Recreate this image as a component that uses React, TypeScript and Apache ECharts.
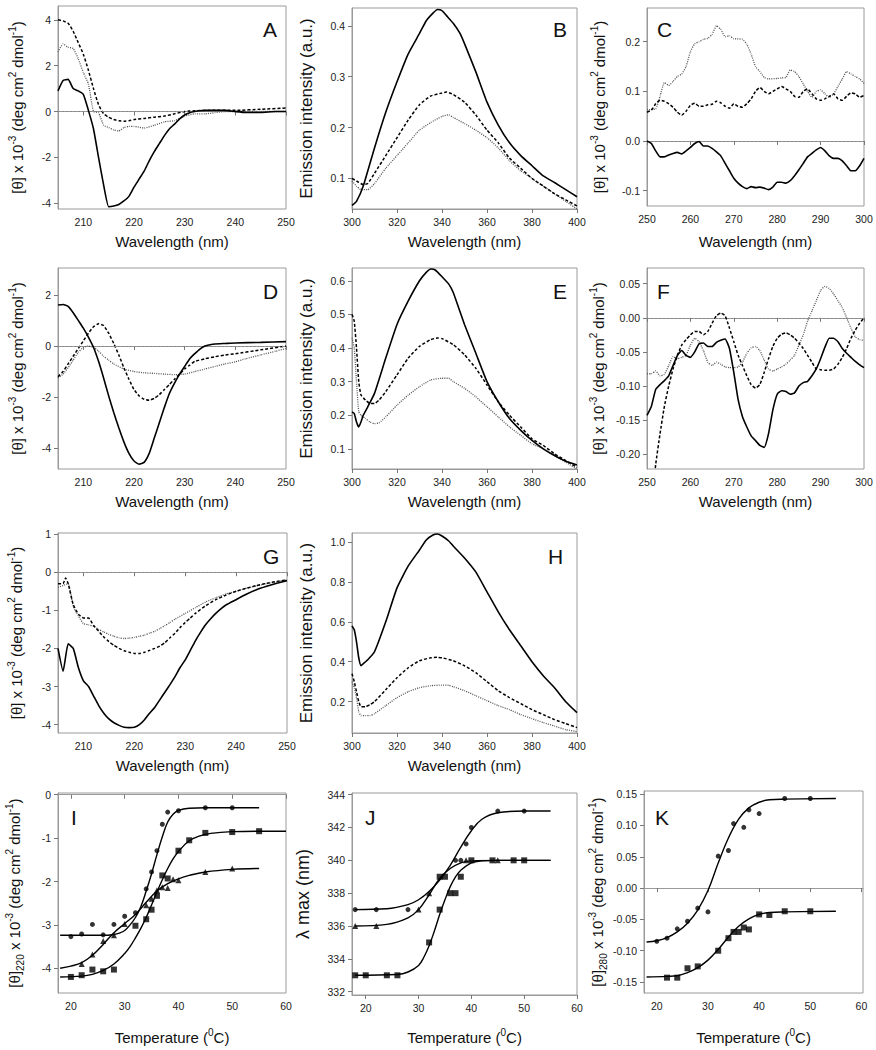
import React, { useEffect, useRef } from "react";
import * as echarts from "echarts";

type P = [number, number][];

// ---------- Panel A (CD far-UV) ----------
const aSolid: P = [[205,0.9],[206,1.35],[207,1.4],[208,1.0],[209,0.9],[210,0.75],[211,0.05],[212,-0.75],[213,-2.0],[214,-3.2],[215,-4.15],[216,-4.12],[217,-4.05],[218,-3.9],[219,-3.7],[220,-3.3],[221,-2.95],[222,-2.6],[223,-2.15],[224,-1.75],[225,-1.4],[226,-1.05],[227,-0.75],[228,-0.55],[229,-0.32],[230,-0.15],[231,-0.05],[232,0],[233,0.03],[234,0.05],[236,0.05],[238,0.05],[240,0],[242,-0.04],[245,-0.04],[248,0],[250,0]];
const aDashed: P = [[205,4.0],[206,3.95],[207,3.85],[208,3.5],[209,3.0],[210,2.5],[211,1.8],[212,1.0],[213,0.3],[214,-0.1],[215,-0.25],[216,-0.35],[217,-0.4],[218,-0.42],[219,-0.4],[220,-0.35],[222,-0.3],[224,-0.25],[226,-0.2],[228,-0.1],[230,0],[232,0.03],[235,0.05],[240,0.05],[245,0.1],[250,0.15]];
const aDotted: P = [[205,2.6],[206,2.95],[207,2.8],[208,2.75],[209,2.3],[210,1.7],[211,1.2],[212,0.0],[213,-0.05],[214,-0.6],[215,-0.7],[216,-0.8],[217,-0.85],[218,-0.7],[219,-0.65],[220,-0.65],[222,-0.72],[224,-0.6],[226,-0.45],[228,-0.4],[230,-0.2],[232,-0.1],[234,-0.1],[236,-0.05],[238,0],[240,0],[242,0],[245,0],[250,0]];

// ---------- Panel B (fluorescence) ----------
const bSolid: P = [[300,0.047],[302,0.055],[305,0.085],[310,0.16],[315,0.23],[320,0.29],[325,0.345],[330,0.385],[333,0.41],[336,0.425],[338,0.432],[340,0.43],[342,0.42],[345,0.405],[348,0.385],[350,0.365],[355,0.31],[360,0.25],[365,0.205],[370,0.17],[375,0.145],[380,0.125],[385,0.105],[390,0.092],[395,0.078],[400,0.064]];
const bDashed: P = [[300,0.1],[302,0.095],[305,0.088],[307,0.09],[310,0.11],[315,0.145],[320,0.18],[325,0.215],[330,0.245],[335,0.262],[340,0.268],[342,0.27],[345,0.265],[350,0.25],[355,0.225],[360,0.195],[365,0.17],[370,0.14],[375,0.12],[380,0.1],[385,0.085],[390,0.07],[395,0.058],[400,0.046]];
const bDotted: P = [[300,0.095],[302,0.085],[304,0.078],[307,0.078],[310,0.09],[315,0.12],[320,0.145],[325,0.17],[330,0.195],[335,0.21],[340,0.222],[343,0.225],[345,0.22],[350,0.208],[355,0.195],[360,0.18],[365,0.16],[370,0.135],[375,0.115],[380,0.1],[385,0.085],[390,0.07],[395,0.055],[400,0.04]];

// ---------- Panel C (CD near-UV) ----------
const cDotted: P = [[250,0.063],[252,0.065],[253,0.09],[254,0.118],[255,0.112],[256,0.12],[257,0.13],[258,0.135],[259,0.15],[260,0.18],[261,0.196],[262,0.2],[263,0.205],[264,0.207],[265,0.215],[266,0.232],[267,0.225],[268,0.21],[269,0.212],[270,0.206],[272,0.205],[273,0.195],[274,0.175],[275,0.15],[276,0.14],[277,0.128],[278,0.125],[280,0.126],[281,0.127],[282,0.128],[283,0.143],[284,0.14],[285,0.13],[286,0.115],[287,0.1],[288,0.088],[289,0.1],[290,0.103],[291,0.095],[292,0.088],[293,0.095],[294,0.11],[295,0.125],[296,0.14],[297,0.135],[298,0.13],[299,0.125],[300,0.116]];
const cDashed: P = [[250,0.058],[251,0.062],[252,0.075],[253,0.082],[254,0.08],[255,0.075],[256,0.068],[257,0.058],[258,0.052],[259,0.06],[260,0.072],[261,0.076],[262,0.07],[263,0.07],[264,0.073],[265,0.074],[266,0.08],[267,0.077],[268,0.07],[269,0.066],[270,0.075],[271,0.07],[272,0.068],[273,0.075],[274,0.085],[275,0.1],[276,0.108],[277,0.1],[278,0.095],[279,0.1],[280,0.105],[281,0.11],[282,0.105],[283,0.1],[284,0.09],[285,0.088],[286,0.1],[287,0.105],[288,0.095],[289,0.085],[290,0.082],[291,0.085],[292,0.09],[293,0.095],[294,0.085],[295,0.082],[296,0.09],[297,0.097],[298,0.095],[299,0.088],[300,0.092]];
const cSolid: P = [[250,0],[251,-0.005],[252,-0.02],[253,-0.032],[254,-0.032],[255,-0.028],[256,-0.025],[257,-0.023],[258,-0.026],[259,-0.02],[260,-0.013],[261,-0.005],[262,-0.001],[263,-0.01],[264,-0.01],[265,-0.015],[266,-0.022],[267,-0.03],[268,-0.045],[269,-0.06],[270,-0.075],[271,-0.085],[272,-0.092],[273,-0.096],[274,-0.092],[275,-0.094],[276,-0.093],[277,-0.095],[278,-0.098],[279,-0.093],[280,-0.083],[281,-0.083],[282,-0.085],[283,-0.08],[284,-0.07],[285,-0.058],[286,-0.045],[287,-0.032],[288,-0.025],[289,-0.018],[290,-0.013],[291,-0.02],[292,-0.03],[293,-0.035],[294,-0.035],[295,-0.04],[296,-0.05],[297,-0.06],[298,-0.06],[299,-0.05],[300,-0.035]];

// ---------- Panel D ----------
const dSolid: P = [[205,1.6],[206,1.62],[207,1.55],[208,1.3],[209,1.0],[210,0.7],[211,0.35],[212,-0.05],[213,-0.6],[214,-1.25],[215,-1.95],[216,-2.6],[217,-3.2],[218,-3.75],[219,-4.2],[220,-4.5],[221,-4.62],[222,-4.55],[223,-4.2],[224,-3.6],[225,-3.0],[226,-2.4],[227,-1.85],[228,-1.45],[229,-1.1],[230,-0.8],[231,-0.5],[232,-0.3],[233,-0.12],[234,0],[235,0.05],[236,0.08],[238,0.1],[240,0.12],[245,0.14],[250,0.17]];
const dDashed: P = [[205,-1.2],[206,-1.0],[207,-0.7],[208,-0.4],[209,-0.1],[210,0.2],[211,0.5],[212,0.75],[213,0.87],[214,0.8],[215,0.5],[216,0.1],[217,-0.35],[218,-0.85],[219,-1.3],[220,-1.7],[221,-1.95],[222,-2.08],[223,-2.12],[224,-2.05],[225,-1.9],[226,-1.7],[227,-1.5],[228,-1.3],[229,-1.1],[230,-0.9],[231,-0.75],[232,-0.6],[234,-0.5],[236,-0.42],[238,-0.35],[240,-0.3],[245,-0.15],[250,0]];
const dDotted: P = [[205,-1.25],[206,-1.1],[207,-0.85],[208,-0.55],[209,-0.25],[210,-0.05],[211,0.0],[212,-0.05],[213,-0.2],[214,-0.4],[215,-0.55],[216,-0.7],[218,-0.9],[220,-1.0],[222,-1.05],[224,-1.07],[226,-1.1],[228,-1.12],[230,-1.1],[232,-1.0],[234,-0.9],[236,-0.8],[238,-0.7],[240,-0.62],[242,-0.5],[245,-0.35],[248,-0.2],[250,-0.1]];

// ---------- Panel E ----------
const eSolid: P = [[300,0.21],[301,0.205],[302,0.18],[303,0.165],[304,0.18],[305,0.2],[307,0.225],[310,0.265],[315,0.37],[320,0.47],[325,0.54],[330,0.6],[333,0.625],[335,0.635],[337,0.632],[340,0.612],[343,0.59],[345,0.565],[350,0.47],[355,0.385],[360,0.3],[365,0.24],[370,0.19],[375,0.155],[380,0.125],[385,0.1],[390,0.08],[395,0.063],[400,0.052]];
const eDashed: P = [[300,0.5],[301,0.48],[302,0.4],[303,0.3],[304,0.26],[306,0.245],[308,0.235],[310,0.235],[312,0.245],[315,0.27],[320,0.32],[325,0.37],[330,0.405],[335,0.425],[338,0.43],[340,0.428],[345,0.41],[350,0.38],[355,0.34],[360,0.29],[365,0.24],[370,0.2],[375,0.165],[380,0.13],[385,0.11],[390,0.085],[395,0.065],[400,0.045]];
const eDotted: P = [[300,0.43],[301,0.4],[302,0.3],[303,0.21],[304,0.2],[306,0.19],[308,0.18],[310,0.175],[312,0.177],[315,0.195],[320,0.23],[325,0.26],[330,0.285],[335,0.305],[340,0.31],[343,0.31],[345,0.3],[350,0.28],[355,0.255],[360,0.225],[365,0.195],[370,0.165],[375,0.14],[380,0.115],[385,0.1],[390,0.08],[395,0.06],[400,0.04]];

// ---------- Panel F ----------
const fSolid: P = [[250,-0.143],[251,-0.13],[252,-0.105],[253,-0.098],[254,-0.092],[255,-0.085],[256,-0.07],[257,-0.055],[258,-0.048],[259,-0.055],[260,-0.058],[261,-0.05],[262,-0.038],[263,-0.037],[264,-0.042],[265,-0.042],[266,-0.036],[267,-0.033],[268,-0.031],[269,-0.045],[270,-0.08],[271,-0.12],[272,-0.145],[273,-0.16],[274,-0.173],[275,-0.18],[276,-0.187],[277,-0.19],[278,-0.17],[279,-0.135],[280,-0.112],[281,-0.107],[282,-0.108],[283,-0.112],[284,-0.11],[285,-0.1],[286,-0.095],[287,-0.093],[288,-0.085],[289,-0.075],[290,-0.06],[291,-0.043],[292,-0.03],[293,-0.03],[294,-0.035],[295,-0.045],[296,-0.052],[297,-0.058],[298,-0.064],[299,-0.069],[300,-0.073]];
const fDashed: P = [[251.7,-0.235],[252,-0.215],[253,-0.17],[254,-0.13],[255,-0.1],[256,-0.075],[257,-0.055],[258,-0.04],[259,-0.032],[260,-0.025],[261,-0.02],[262,-0.02],[263,-0.025],[264,-0.02],[265,-0.008],[266,0.003],[267,0.007],[268,0.003],[269,-0.015],[270,-0.035],[271,-0.055],[272,-0.07],[273,-0.085],[274,-0.098],[275,-0.103],[276,-0.098],[277,-0.08],[278,-0.06],[279,-0.042],[280,-0.03],[281,-0.024],[282,-0.022],[283,-0.025],[284,-0.03],[285,-0.037],[286,-0.045],[287,-0.055],[288,-0.065],[289,-0.075],[290,-0.076],[291,-0.077],[292,-0.077],[293,-0.075],[294,-0.068],[295,-0.058],[296,-0.045],[297,-0.03],[298,-0.018],[299,-0.008],[300,0.0]];
const fDotted: P = [[250,-0.082],[251,-0.082],[252,-0.078],[253,-0.085],[254,-0.083],[255,-0.07],[256,-0.057],[257,-0.06],[258,-0.058],[259,-0.055],[260,-0.04],[261,-0.03],[262,-0.035],[263,-0.048],[264,-0.065],[265,-0.07],[266,-0.065],[267,-0.068],[268,-0.072],[269,-0.073],[270,-0.073],[271,-0.072],[272,-0.065],[273,-0.052],[274,-0.044],[275,-0.042],[276,-0.048],[277,-0.062],[278,-0.075],[279,-0.078],[280,-0.075],[281,-0.072],[282,-0.068],[283,-0.062],[284,-0.055],[285,-0.04],[286,-0.025],[287,-0.005],[288,0.01],[289,0.025],[290,0.04],[291,0.046],[292,0.043],[293,0.035],[294,0.025],[295,0.015],[296,0.0],[297,-0.015],[298,-0.028],[299,-0.032],[300,-0.033]];

// ---------- Panel G ----------
const gSolid: P = [[205,-2.0],[206,-2.6],[207,-1.88],[208,-2.0],[209,-2.5],[210,-2.85],[211,-3.0],[212,-3.25],[213,-3.5],[214,-3.7],[215,-3.85],[216,-3.95],[217,-4.02],[218,-4.07],[219,-4.08],[220,-4.07],[221,-4.0],[222,-3.87],[223,-3.7],[224,-3.55],[225,-3.35],[226,-3.15],[227,-2.95],[228,-2.74],[229,-2.5],[230,-2.3],[231,-2.05],[232,-1.8],[233,-1.58],[234,-1.38],[235,-1.22],[236,-1.08],[237,-0.96],[238,-0.86],[240,-0.72],[242,-0.58],[244,-0.46],[246,-0.37],[248,-0.29],[250,-0.22]];
const gDashed: P = [[205,-0.3],[206,-0.3],[206.5,-0.15],[207,-0.3],[208,-0.85],[209,-1.1],[210,-1.2],[211,-1.2],[212,-1.4],[213,-1.55],[214,-1.7],[215,-1.82],[216,-1.92],[217,-2.0],[218,-2.06],[219,-2.1],[220,-2.13],[221,-2.13],[222,-2.1],[223,-2.05],[224,-2.0],[225,-1.94],[226,-1.85],[227,-1.72],[228,-1.6],[229,-1.45],[230,-1.32],[231,-1.2],[232,-1.08],[234,-0.88],[236,-0.72],[238,-0.6],[240,-0.5],[242,-0.42],[244,-0.35],[246,-0.29],[248,-0.24],[250,-0.2]];
const gDotted: P = [[205,-0.4],[206,-0.35],[207,-0.3],[208,-0.9],[209,-1.15],[210,-1.35],[211,-1.38],[212,-1.42],[213,-1.5],[214,-1.57],[215,-1.63],[216,-1.68],[217,-1.72],[218,-1.74],[219,-1.73],[220,-1.71],[221,-1.68],[222,-1.65],[223,-1.6],[224,-1.55],[225,-1.48],[226,-1.4],[227,-1.32],[228,-1.23],[230,-1.08],[232,-0.93],[234,-0.78],[236,-0.67],[238,-0.57],[240,-0.5],[242,-0.42],[244,-0.36],[246,-0.3],[248,-0.25],[250,-0.2]];

// ---------- Panel H ----------
const hSolid: P = [[300,0.58],[301,0.56],[302,0.5],[303,0.42],[304,0.38],[305,0.39],[307,0.41],[310,0.45],[315,0.6],[320,0.77],[325,0.88],[330,0.96],[333,1.01],[336,1.035],[338,1.04],[340,1.03],[343,1.005],[345,0.98],[350,0.92],[355,0.85],[360,0.75],[365,0.65],[370,0.56],[375,0.48],[380,0.4],[385,0.33],[390,0.27],[395,0.2],[400,0.145]];
const hDashed: P = [[300,0.34],[301,0.3],[302,0.25],[303,0.2],[304,0.175],[306,0.175],[308,0.185],[310,0.2],[315,0.26],[320,0.32],[325,0.37],[330,0.405],[335,0.42],[338,0.422],[340,0.42],[345,0.405],[350,0.38],[355,0.345],[360,0.3],[365,0.255],[370,0.22],[375,0.19],[380,0.16],[385,0.135],[390,0.11],[395,0.09],[400,0.07]];
const hDotted: P = [[300,0.3],[301,0.27],[302,0.22],[303,0.15],[304,0.13],[306,0.13],[308,0.13],[310,0.14],[315,0.18],[320,0.22],[325,0.25],[330,0.27],[335,0.28],[340,0.283],[343,0.282],[345,0.275],[350,0.255],[355,0.23],[360,0.205],[365,0.18],[370,0.16],[375,0.135],[380,0.115],[385,0.095],[390,0.078],[395,0.06],[400,0.05]];

// ---------- Panel I (thermal, [θ]220) ----------
const iCircles: P = [[20,-3.27],[22,-3.21],[24,-2.99],[26,-3.23],[28,-2.99],[30,-2.8],[32,-2.72],[34,-2.17],[35,-1.78],[36,-1.29],[37,-0.68],[38,-0.4],[40,-0.37],[45,-0.3],[50,-0.3]];
const iSquares: P = [[20,-4.2],[22,-4.16],[24,-4.03],[26,-4.07],[28,-4.03],[32,-3.02],[34,-2.87],[35,-2.65],[36,-2.33],[37,-1.86],[38,-1.93],[40,-1.29],[42,-1.05],[45,-0.88],[50,-0.86],[55,-0.84]];
const iTriangles: P = [[22,-3.9],[24,-3.68],[26,-3.37],[28,-3.24],[30,-2.98],[34,-2.55],[35,-2.4],[36,-2.2],[37,-2.13],[38,-2.15],[39,-1.95],[40,-1.97],[45,-1.78],[50,-1.7]];
const iCircleFit: P = [[18,-3.24],[26,-3.24],[28,-3.22],[29,-3.19],[30,-3.13],[31,-3.0],[32,-2.83],[33,-2.58],[34,-2.22],[35,-1.82],[36,-1.38],[37,-0.97],[38,-0.63],[39,-0.45],[40,-0.36],[42,-0.31],[45,-0.3],[55,-0.3]];
const iSquareFit: P = [[18,-4.2],[22,-4.18],[24,-4.14],[26,-4.05],[28,-3.9],[30,-3.66],[31,-3.5],[32,-3.3],[33,-3.08],[34,-2.83],[35,-2.54],[36,-2.24],[37,-1.96],[38,-1.7],[39,-1.48],[40,-1.31],[42,-1.06],[44,-0.95],[46,-0.89],[50,-0.85],[55,-0.84],[60,-0.84]];
const iTriangleFit: P = [[18,-4.0],[20,-3.95],[22,-3.87],[24,-3.7],[26,-3.45],[28,-3.18],[30,-2.97],[32,-2.76],[34,-2.48],[36,-2.22],[38,-2.05],[40,-1.94],[42,-1.86],[45,-1.78],[50,-1.72],[55,-1.7]];

// ---------- Panel J (λmax) ----------
const jCircles: P = [[18,337],[22,337],[28,337],[37,340],[38,340],[39,341],[40,342],[45,343],[50,343]];
const jTriangles: P = [[18,336],[22,336],[30,337],[32,338],[39,340],[45,340]];
const jSquares: P = [[18,333],[20,333],[24,333],[26,333],[32,335],[34,337],[34,339],[35,339],[36,338],[37,338],[38,339],[40,340],[44,340],[48,340],[50,340]];
const jCircleFit: P = [[18,337],[24,337.05],[28,337.3],[30,337.6],[32,338.1],[34,338.8],[36,339.7],[38,340.8],[40,341.8],[42,342.5],[45,342.9],[50,343],[55,343]];
const jTriangleFit: P = [[18,336],[24,336.1],[28,336.5],[30,337],[32,337.9],[34,338.9],[36,339.5],[38,339.85],[40,339.97],[45,340],[55,340]];
const jSquareFit: P = [[18,333],[26,333.05],[28,333.2],[30,333.6],[31,334.1],[32,334.8],[33,335.7],[34,336.7],[35,337.6],[36,338.4],[37,339.0],[38,339.4],[40,339.85],[42,339.97],[45,340],[55,340]];

// ---------- Panel K ([θ]280) ----------
const kCircles: P = [[20,-0.085],[22,-0.08],[24,-0.065],[26,-0.053],[28,-0.032],[30,-0.038],[32,0.051],[34,0.06],[35,0.103],[37,0.097],[38,0.125],[40,0.119],[45,0.143],[50,0.143]];
const kSquares: P = [[22,-0.143],[24,-0.143],[26,-0.128],[28,-0.125],[32,-0.1],[34,-0.08],[35,-0.07],[36,-0.07],[37,-0.063],[38,-0.066],[40,-0.042],[42,-0.043],[45,-0.037],[50,-0.037]];
const kCircleFit: P = [[18,-0.086],[20,-0.084],[22,-0.079],[24,-0.07],[26,-0.056],[28,-0.035],[30,-0.004],[32,0.04],[34,0.08],[36,0.11],[38,0.128],[40,0.137],[42,0.141],[45,0.142],[55,0.143]];
const kSquareFit: P = [[18,-0.142],[22,-0.141],[24,-0.14],[26,-0.135],[28,-0.127],[30,-0.115],[32,-0.098],[34,-0.078],[36,-0.061],[38,-0.049],[40,-0.042],[42,-0.039],[45,-0.038],[55,-0.037]];

// ---------- tick labels ----------
const wlTicksFar = [210, 220, 230, 240, 250];
const wlTicksEm = [300, 320, 340, 360, 380, 400];
const wlTicksNear = [250, 260, 270, 280, 290, 300];
const tempTicks = [20, 30, 40, 50, 60];
const yTicksA = [-4, -2, 0, 2, 4];
const yTicksB = [0.1, 0.2, 0.3, 0.4];
const yTicksC = [-0.1, 0.0, 0.1, 0.2];
const yTicksD = [-4, -2, 0, 2];
const yTicksE = [0.1, 0.2, 0.3, 0.4, 0.5, 0.6];
const yTicksF = [-0.2, -0.15, -0.1, -0.05, 0, 0.05];
const yTicksG = [-4, -3, -2, -1, 0, 1];
const yTicksH = [0.2, 0.4, 0.6, 0.8, 1.0];
const yTicksI = [-4, -3, -2, -1, 0];
const yTicksJ = [332, 334, 336, 338, 340, 342, 344];
const yTicksK = [-0.15, -0.1, -0.05, 0, 0.05, 0.1, 0.15];

const FONT = "'Liberation Sans', Arial, Helvetica, sans-serif";
const CD_NAME = "[θ] x 10{sup|-3} (deg cm{sup|2} dmol{sup|-1})";
const EM_NAME = "Emission intensity (a.u.)";
const WL_NAME = "Wavelength (nm)";
const T_NAME = "Temperature ({sup|0}C)";

const SOLID = { color: "#000", width: 1.6, type: "solid" as const };
const DASHED = { color: "#000", width: 1.5, type: [3, 2] };
const DOTTED = { color: "#555", width: 1.3, type: [1, 1.2] };
const FIT = { color: "#000", width: 1.4, type: "solid" as const };

interface LineDef { data: P; style: any; smooth?: number }
interface ScatDef { data: P; symbol: string; size: number }
interface Panel {
  letter: string; lx: number; ly: number;
  grid: { left: number; top: number; width: number; height: number };
  x: [number, number]; y: [number, number];
  xTicks: number[]; yTicks: number[]; dec: number;
  xName: string; xGap: number; yName: string; yGap: number; ySize: number;
  zero?: boolean; lines: LineDef[]; scat?: ScatDef[];
}

const panels: Panel[] = [
  { letter: "A", lx: 263, ly: 19, grid: { left: 58, top: 6, width: 228, height: 203 }, x: [205, 250], y: [-4.25, 4.6],
    xTicks: wlTicksFar, yTicks: yTicksA, dec: 0, xName: WL_NAME, xGap: 22, yName: CD_NAME, yGap: 30, ySize: 15, zero: true,
    lines: [{ data: aSolid, style: SOLID }, { data: aDashed, style: DASHED }, { data: aDotted, style: DOTTED }] },
  { letter: "B", lx: 553, ly: 19, grid: { left: 352, top: 8, width: 225, height: 201 }, x: [300, 400], y: [0.04, 0.435],
    xTicks: wlTicksEm, yTicks: yTicksB, dec: 1, xName: WL_NAME, xGap: 22, yName: EM_NAME, yGap: 34, ySize: 17,
    lines: [{ data: bSolid, style: SOLID }, { data: bDashed, style: DASHED }, { data: bDotted, style: DOTTED }] },
  { letter: "C", lx: 657, ly: 19, grid: { left: 647, top: 8, width: 217, height: 198 }, x: [250, 300], y: [-0.131, 0.268],
    xTicks: wlTicksNear, yTicks: yTicksC, dec: 1, xName: WL_NAME, xGap: 25, yName: CD_NAME, yGap: 37, ySize: 15, zero: true,
    lines: [{ data: cSolid, style: SOLID }, { data: cDashed, style: DASHED }, { data: cDotted, style: DOTTED }] },
  { letter: "D", lx: 263, ly: 281, grid: { left: 58, top: 268, width: 228, height: 201 }, x: [205, 250], y: [-4.81, 3.05],
    xTicks: wlTicksFar, yTicks: yTicksD, dec: 0, xName: WL_NAME, xGap: 22, yName: CD_NAME, yGap: 30, ySize: 15, zero: true,
    lines: [{ data: dSolid, style: SOLID }, { data: dDashed, style: DASHED }, { data: dDotted, style: DOTTED }] },
  { letter: "E", lx: 553, ly: 281, grid: { left: 352, top: 268, width: 225, height: 201 }, x: [300, 400], y: [0.04, 0.638],
    xTicks: wlTicksEm, yTicks: yTicksE, dec: 1, xName: WL_NAME, xGap: 22, yName: EM_NAME, yGap: 34, ySize: 17,
    lines: [{ data: eSolid, style: SOLID }, { data: eDashed, style: DASHED }, { data: eDotted, style: DOTTED }] },
  { letter: "F", lx: 657, ly: 281, grid: { left: 647, top: 268, width: 217, height: 201 }, x: [250, 300], y: [-0.2216, 0.073],
    xTicks: wlTicksNear, yTicks: yTicksF, dec: 2, xName: WL_NAME, xGap: 22, yName: CD_NAME, yGap: 38, ySize: 15, zero: true,
    lines: [{ data: fSolid, style: SOLID }, { data: fDashed, style: DASHED }, { data: fDotted, style: DOTTED }] },
  { letter: "G", lx: 263, ly: 546, grid: { left: 58, top: 533, width: 229, height: 200 }, x: [205, 250], y: [-4.22, 1.03],
    xTicks: wlTicksFar, yTicks: yTicksG, dec: 0, xName: WL_NAME, xGap: 22, yName: CD_NAME, yGap: 31, ySize: 15, zero: true,
    lines: [{ data: gSolid, style: SOLID }, { data: gDashed, style: DASHED }, { data: gDotted, style: DOTTED }] },
  { letter: "H", lx: 548, ly: 546, grid: { left: 352, top: 533, width: 225, height: 200 }, x: [300, 400], y: [0.043, 1.045],
    xTicks: wlTicksEm, yTicks: yTicksH, dec: 1, xName: WL_NAME, xGap: 22, yName: EM_NAME, yGap: 34, ySize: 17,
    lines: [{ data: hSolid, style: SOLID }, { data: hDashed, style: DASHED }, { data: hDotted, style: DOTTED }] },
  { letter: "I", lx: 71, ly: 807, grid: { left: 58, top: 793, width: 228, height: 200 }, x: [17.6, 60], y: [-4.57, 0.04],
    xTicks: tempTicks, yTicks: yTicksI, dec: 0, xName: T_NAME, xGap: 34, yName: "[θ]{sub|220} x 10{sup|-3} (deg cm{sup|2} dmol{sup|-1})", yGap: 33, ySize: 15,
    lines: [{ data: iCircleFit, style: FIT, smooth: 0.4 }, { data: iSquareFit, style: FIT, smooth: 0.4 }, { data: iTriangleFit, style: FIT, smooth: 0.4 }],
    scat: [{ data: iCircles, symbol: "circle", size: 5 }, { data: iSquares, symbol: "rect", size: 6 }, { data: iTriangles, symbol: "triangle", size: 6 }] },
  { letter: "J", lx: 365, ly: 807, grid: { left: 352, top: 793, width: 225, height: 202 }, x: [17.4, 60], y: [331.8, 344.1],
    xTicks: tempTicks, yTicks: yTicksJ, dec: 0, xName: T_NAME, xGap: 32, yName: "λ max (nm)", yGap: 37, ySize: 18,
    lines: [{ data: jCircleFit, style: FIT, smooth: 0.4 }, { data: jTriangleFit, style: FIT, smooth: 0.4 }, { data: jSquareFit, style: FIT, smooth: 0.4 }],
    scat: [{ data: jCircles, symbol: "circle", size: 5 }, { data: jTriangles, symbol: "triangle", size: 6 }, { data: jSquares, symbol: "rect", size: 6 }] },
  { letter: "K", lx: 655, ly: 807, grid: { left: 644, top: 791, width: 219, height: 202 }, x: [17.5, 60.3], y: [-0.1675, 0.155],
    xTicks: tempTicks, yTicks: yTicksK, dec: 2, xName: T_NAME, xGap: 34, yName: "[θ]{sub|280} x 10{sup|-3} (deg cm{sup|2} dmol{sup|-1})", yGap: 36, ySize: 15,
    lines: [{ data: kCircleFit, style: FIT, smooth: 0.4 }, { data: kSquareFit, style: FIT, smooth: 0.4 }],
    scat: [{ data: kCircles, symbol: "circle", size: 5 }, { data: kSquares, symbol: "rect", size: 6 }] },
];

function richFor(size: number) {
  const small = Math.round(size * 0.68);
  const lh = size + 6;
  return {
    sup: { fontSize: small, fontFamily: FONT, color: "#111", lineHeight: lh, verticalAlign: "top" },
    sub: { fontSize: small, fontFamily: FONT, color: "#111", lineHeight: lh, verticalAlign: "bottom" },
  };
}

function buildOption() {
  const grid: any[] = [];
  const xAxis: any[] = [];
  const yAxis: any[] = [];
  const series: any[] = [];
  const graphic: any[] = [];
  panels.forEach((p, i) => {
    grid.push({ ...p.grid, show: true, borderColor: "#9a9a9a", borderWidth: 1, backgroundColor: "transparent", containLabel: false });
    const axisCommon = {
      axisLine: { show: true, lineStyle: { color: "#9a9a9a", width: 1 } },
      axisTick: { show: true, inside: false, length: 4, lineStyle: { color: "#777" } },
      splitLine: { show: false },
    };
    xAxis.push({
      type: "value", gridIndex: i, min: p.x[0], max: p.x[1], ...axisCommon,
      axisTick: { ...axisCommon.axisTick, customValues: p.xTicks },
      axisLabel: { customValues: p.xTicks, fontSize: 10.5, color: "#222", fontFamily: FONT, margin: 7, formatter: (v: number) => String(v) },
      name: p.xName, nameLocation: "middle", nameGap: p.xGap,
      nameTextStyle: { fontSize: 15, fontFamily: FONT, color: "#111", lineHeight: 20, rich: richFor(15) },
    });
    yAxis.push({
      type: "value", gridIndex: i, min: p.y[0], max: p.y[1], ...axisCommon,
      axisTick: { ...axisCommon.axisTick, customValues: p.yTicks },
      axisLabel: { customValues: p.yTicks, fontSize: 10.5, color: "#222", fontFamily: FONT, margin: 7, formatter: (v: number) => v.toFixed(p.dec) },
      name: p.yName, nameLocation: "middle", nameGap: p.yGap,
      nameTextStyle: { fontSize: p.ySize, fontFamily: FONT, color: "#111", lineHeight: p.ySize + 6, rich: richFor(p.ySize) },
    });
    p.lines.forEach((l, k) => {
      const s: any = {
        type: "line", xAxisIndex: i, yAxisIndex: i, data: l.data, showSymbol: false, symbol: "none",
        smooth: l.smooth ?? 0.15, lineStyle: l.style, clip: true, silent: true, z: 3 + (2 - k),
      };
      if (k === 0 && p.zero) {
        s.markLine = { silent: true, symbol: "none", label: { show: false }, data: [{ yAxis: 0 }],
          lineStyle: { color: "#888", width: 1, type: [2, 2] } };
      }
      series.push(s);
    });
    (p.scat || []).forEach((sc) => {
      series.push({ type: "scatter", xAxisIndex: i, yAxisIndex: i, data: sc.data, symbol: sc.symbol, symbolSize: sc.size,
        itemStyle: { color: "#000" }, silent: true, z: 5 });
    });
    graphic.push({ type: "text", x: p.lx, y: p.ly, style: { text: p.letter, fontSize: 21, fontFamily: FONT, fill: "#111" } });
  });
  return { animation: false, backgroundColor: "#fff", grid, xAxis, yAxis, series, graphic };
}

export default function App() {
  const ref = useRef<HTMLDivElement>(null);
  useEffect(() => {
    const chart = echarts.init(ref.current!, null, { renderer: "svg" });
    chart.setOption(buildOption());
    return () => chart.dispose();
  }, []);
  return <div ref={ref} style={{ position: "fixed", left: 0, top: 0, width: 876, height: 1050, background: "#fff" }} />;
}
